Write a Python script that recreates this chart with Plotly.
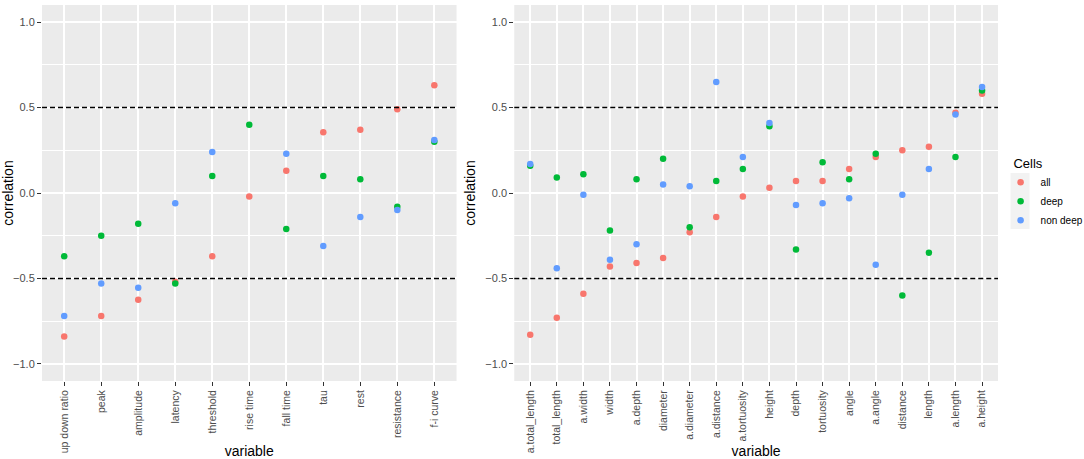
import plotly.graph_objects as go

# left panel: electrophysiology features
ephys_vars = ["up down ratio", "peak", "amplitude", "latency", "threshold", "rise time",
              "fall time", "tau", "rest", "resistance", "f-i curve"]
ephys_all = [-0.84, -0.72, -0.625, -0.52, -0.37, -0.02, 0.13, 0.355, 0.37, 0.49, 0.63]
ephys_deep = [-0.37, -0.25, -0.18, -0.53, 0.10, 0.40, -0.21, 0.10, 0.08, -0.08, 0.30]
ephys_nondeep = [-0.72, -0.53, -0.555, -0.06, 0.24, None, 0.23, -0.31, -0.14, -0.10, 0.31]

# right panel: morphology features
morph_vars = ["a.total_length", "total_length", "a.width", "width", "a.depth", "diameter",
              "a.diameter", "a.distance", "a.tortuosity", "height", "depth", "tortuosity",
              "angle", "a.angle", "distance", "length", "a.length", "a.height"]
morph_all = [-0.83, -0.73, -0.59, -0.43, -0.41, -0.38, -0.23, -0.14, -0.02, 0.03, 0.07,
             0.07, 0.14, 0.21, 0.25, 0.27, 0.47, 0.58]
morph_deep = [0.16, 0.09, 0.11, -0.22, 0.08, 0.20, -0.20, 0.07, 0.14, 0.39, -0.33,
              0.18, 0.08, 0.23, -0.60, -0.35, 0.21, 0.60]
morph_nondeep = [0.17, -0.44, -0.01, -0.39, -0.30, 0.05, 0.04, 0.65, 0.21, 0.41, -0.07,
                 -0.06, -0.03, -0.42, -0.01, 0.14, 0.46, 0.62]

cells = ["all", "deep", "non deep"]
colors = ["#F8766D", "#00BA38", "#619CFF"]

fig = go.Figure()
for name, col, ys in zip(cells, colors, [ephys_all, ephys_deep, ephys_nondeep]):
    fig.add_trace(go.Scatter(x=ephys_vars, y=ys, mode="markers", name=name,
                             marker=dict(color=col, size=6.5), xaxis="x", yaxis="y",
                             showlegend=True, legendgroup=name))
for name, col, ys in zip(cells, colors, [morph_all, morph_deep, morph_nondeep]):
    fig.add_trace(go.Scatter(x=morph_vars, y=ys, mode="markers", name=name,
                             marker=dict(color=col, size=6.5), xaxis="x2", yaxis="y2",
                             showlegend=False, legendgroup=name))

xtickfont = dict(family="Liberation Sans, Arial", size=10.5, color="#4D4D4D")
ytickfont = dict(family="Liberation Sans, Arial", size=11, color="#4D4D4D")
titlefont = dict(family="Liberation Sans, Arial", size=14, color="black")

def xax(domain, anchor, cats):
    return dict(domain=domain, anchor=anchor, type="category", categoryorder="array",
                categoryarray=cats, range=[-0.6, len(cats) - 0.4], tickangle=-90,
                showgrid=True, gridcolor="white", gridwidth=1.5, zeroline=False,
                ticks="outside", ticklen=4, tickcolor="#333333", tickwidth=1,
                tickfont=xtickfont, automargin=False,
                title=dict(text="variable", font=titlefont, standoff=4),
                showline=False)

def yax(domain, anchor):
    return dict(domain=domain, anchor=anchor, range=[-1.1, 1.1], tickmode="linear",
                tick0=0, dtick=0.5, tickformat=".1f", showgrid=True, gridcolor="white",
                gridwidth=1.5, zeroline=False, ticks="outside", ticklen=4,
                tickcolor="#333333", tickwidth=1, tickfont=ytickfont, automargin=False,
                minor=dict(dtick=0.25, showgrid=True, gridcolor="white", gridwidth=0.7),
                title=dict(text="correlation", font=titlefont, standoff=6))

shapes = []
for xr, yr in [("x domain", "y"), ("x2 domain", "y2")]:
    for v in [0.5, -0.5]:
        shapes.append(dict(type="line", xref=xr, yref=yr, x0=0, x1=1, y0=v, y1=v,
                           line=dict(color="black", width=1.5, dash="5px,3px")))
# grey key background of the legend
shapes.append(dict(type="rect", xref="paper", yref="paper", x0=1.0131, x1=1.033,
                   y0=0.404, y1=0.553, fillcolor="#F2F2F2", line=dict(width=0),
                   layer="below"))

fig.update_layout(
    width=1084, height=459,
    margin=dict(l=42, r=86, t=5, b=78, autoexpand=False),
    paper_bgcolor="white", plot_bgcolor="#EBEBEB",
    font=dict(family="Liberation Sans, Arial"),
    xaxis=xax([0, 0.4336], "y", ephys_vars),
    yaxis=yax([0, 1], "x"),
    xaxis2=xax([0.494, 1], "y2", morph_vars),
    yaxis2=yax([0, 1], "x2"),
    shapes=shapes,
    legend=dict(title=dict(text="&nbsp;&nbsp;&nbsp;Cells", font=dict(size=13, color="black")),
                x=1.0027, xanchor="left", y=0.612, yanchor="top",
                bgcolor="rgba(0,0,0,0)", font=dict(size=10, color="black"),
                itemwidth=30, tracegroupgap=0),
)

fig.write_html("out.html", config={"displayModeBar": False},
               post_script="document.body.style.margin='0';")
